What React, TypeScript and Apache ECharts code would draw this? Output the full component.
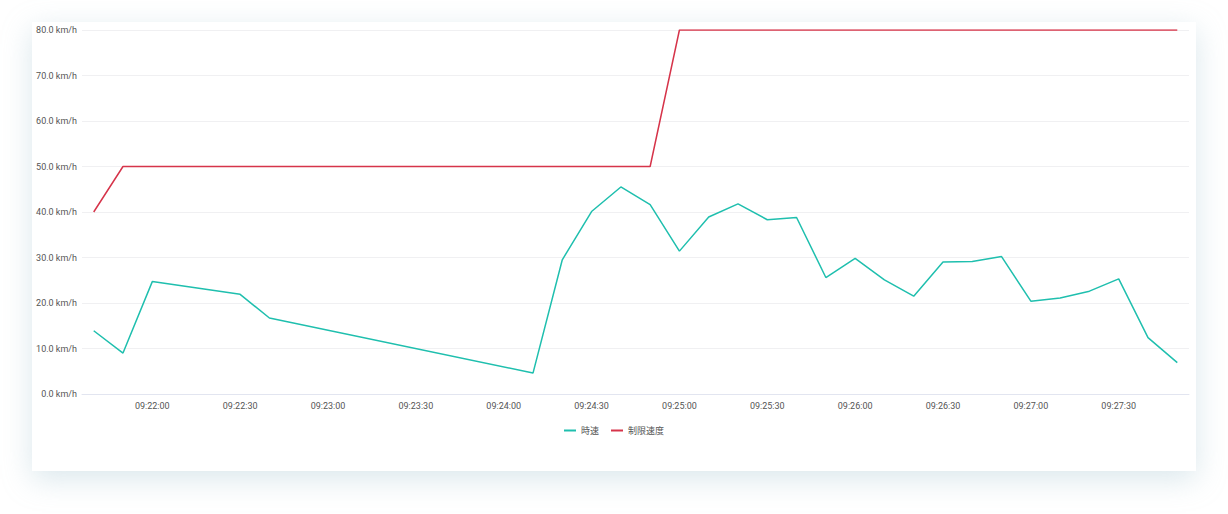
import React, { useEffect, useRef } from "react";
import * as echarts from "echarts";

const times = [
  "09:21:40", "09:21:50", "09:22:00", "09:22:30", "09:22:40", "09:24:10",
  "09:24:20", "09:24:30", "09:24:40", "09:24:50", "09:25:00", "09:25:10",
  "09:25:20", "09:25:30", "09:25:40", "09:25:50", "09:26:00", "09:26:10",
  "09:26:20", "09:26:30", "09:26:40", "09:26:50", "09:27:00", "09:27:10",
  "09:27:20", "09:27:30", "09:27:40", "09:27:50",
];
const speed = [
  13.9, 9.0, 24.7, 21.9, 16.7, 4.6,
  29.5, 40.1, 45.5, 41.6, 31.4, 38.9,
  41.8, 38.3, 38.8, 25.6, 29.8, 25.1,
  21.5, 29.0, 29.1, 30.2, 20.4, 21.1,
  22.6, 25.3, 12.4, 6.9,
];
const limit = [
  40, 50, 50, 50, 50, 50,
  50, 50, 50, 50, 80, 80,
  80, 80, 80, 80, 80, 80,
  80, 80, 80, 80, 80, 80,
  80, 80, 80, 80,
];
const seriesNames = ["時速", "制限速度"];
const axisMin = "09:21:36";
const axisMax = "09:27:54";

const toSec = (t: string) => {
  const [h, m, s] = t.split(":").map(Number);
  return h * 3600 + m * 60 + s;
};
const pad = (n: number) => (n < 10 ? "0" + n : "" + n);
const fmt = (v: number) => {
  const h = Math.floor(v / 3600);
  const m = Math.floor((v % 3600) / 60);
  const s = Math.round(v % 60);
  return pad(h) + ":" + pad(m) + ":" + pad(s);
};

export default function App() {
  const ref = useRef<HTMLDivElement>(null);
  useEffect(() => {
    if (!ref.current) return;
    const chart = echarts.init(ref.current, undefined, { renderer: "svg" });
    chart.setOption({
      animation: false,
      color: ["#1fbfae", "#d6344a"],
      textStyle: { fontFamily: "Roboto, 'Noto Sans CJK JP', sans-serif" },
      grid: { left: 82, top: 30, width: 1107, height: 364, containLabel: false },
      legend: {
        data: seriesNames,
        top: 421,
        left: "center",
        icon: "path://M0,4 L12,4 L12,6 L0,6 Z",
        itemWidth: 12,
        itemHeight: 2,
        itemGap: 12,
        textStyle: { fontSize: 9, color: "#555" },
      },
      xAxis: {
        type: "value",
        min: toSec(axisMin),
        max: toSec(axisMax),
        interval: 6,
        splitLine: { show: false },
        axisTick: { show: false },
        axisLine: { lineStyle: { color: "#e2e5f0" } },
        axisLabel: {
          interval: 0,
          hideOverlap: false,
          showMinLabel: false,
          showMaxLabel: false,
          fontSize: 9,
          color: "#555",
          margin: 7,
          formatter: (v: number) => (Math.round(v) % 30 === 0 ? fmt(v) : ""),
        },
      },
      yAxis: {
        type: "value",
        min: 0,
        max: 80,
        interval: 10,
        axisLine: { show: false },
        axisTick: { show: false },
        splitLine: { lineStyle: { color: "#f0f0f2" } },
        axisLabel: {
          fontSize: 9,
          color: "#555",
          margin: 5,
          formatter: (v: number) => v.toFixed(1) + " km/h",
        },
      },
      series: [
        {
          name: seriesNames[0],
          type: "line",
          showSymbol: false,
          symbol: "none",
          lineStyle: { width: 1.5 },
          data: times.map((t, i) => [toSec(t), speed[i]]),
        },
        {
          name: seriesNames[1],
          type: "line",
          showSymbol: false,
          symbol: "none",
          lineStyle: { width: 1.5 },
          data: times.map((t, i) => [toSec(t), limit[i]]),
        },
      ],
    });
    return () => chart.dispose();
  }, []);
  return (
    <div style={{ position: "fixed", left: 0, top: 0, width: 1228, height: 514, background: "#fff", overflow: "hidden" }}>
      <div
        style={{
          position: "absolute",
          left: 32,
          top: 22,
          width: 1164,
          height: 449,
          background: "#fff",
          boxShadow: "0 8px 28px rgba(150,185,200,0.35)",
        }}
      />
      <div ref={ref} style={{ position: "absolute", left: 0, top: 0, width: 1228, height: 514 }} />
    </div>
  );
}
